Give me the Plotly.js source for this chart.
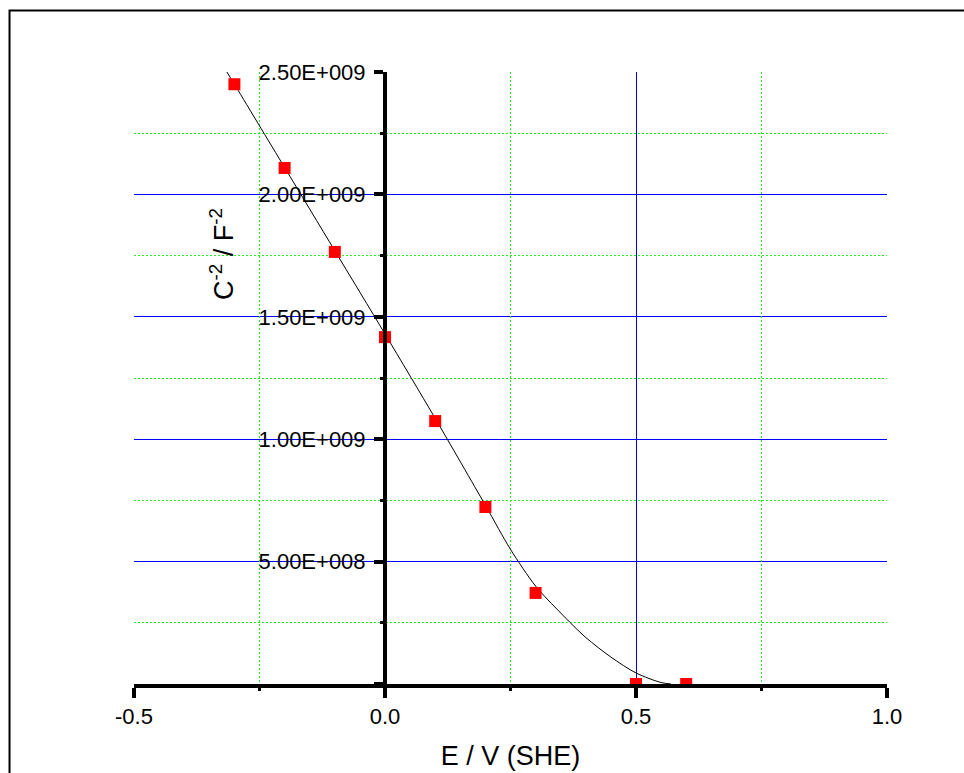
<!DOCTYPE html>
<html>
<head>
<meta charset="utf-8">
<script src="https://cdn.plot.ly/plotly-3.0.1.min.js"></script>
<style>
  html, body { margin: 0; padding: 0; background: #ffffff; }
  #chart { width: 964px; height: 773px; }
</style>
</head>
<body>
<div id="chart"></div>
<script>
// Measured points
const E = [-0.3, -0.2, -0.1, 0.0, 0.1, 0.2, 0.3, 0.5, 0.6];
const C2 = [2.45e9, 2.108e9, 1.765e9, 1.417e9, 1.074e9, 0.723e9, 0.372e9, 0.0, 0.0];

// Fitted curve
const fitE = [-0.315, -0.3, -0.2, -0.1, 0.0, 0.1, 0.2, 0.25, 0.3, 0.35, 0.4, 0.45, 0.5, 0.55, 0.57];
const fitC2 = [2.5e9, 2.45e9, 2.11e9, 1.77e9, 1.43e9, 1.085e9, 0.73e9, 0.55e9, 0.40e9, 0.29e9, 0.19e9, 0.11e9, 0.045e9, 0.006e9, 0.0];

// Tick labels
const xTickVals = [-0.5, 0.0, 0.5, 1.0];
const xTickText = ["-0.5", "0.0", "0.5", "1.0"];
const xMinorVals = [-0.25, 0.25, 0.75];
const yTickVals = [0, 5e8, 1e9, 1.5e9, 2e9, 2.5e9];
const yTickText = ["", "5.00E+008", "1.00E+009", "1.50E+009", "2.00E+009", "2.50E+009"];
const yMinorVals = [2.5e8, 7.5e8, 1.25e9, 1.75e9, 2.25e9];

const font = "Arial, 'Liberation Sans', sans-serif";
const xRange = [-0.5, 1.0];
const yRange = [0, 2.5e9];

const traces = [
  {
    x: fitE, y: fitC2, type: "scatter", mode: "lines",
    xaxis: "x", yaxis: "y",
    line: { color: "#000000", width: 1, shape: "spline", smoothing: 0.8 },
    hoverinfo: "skip", showlegend: false
  },
  {
    x: E, y: C2, type: "scatter", mode: "markers",
    xaxis: "x2", yaxis: "y2",
    marker: { symbol: "square", size: 12, color: "#ff0000", line: { width: 0 } },
    showlegend: false
  }
];

const minorGrid = { showgrid: true, gridcolor: "#22ee22", gridwidth: 1, griddash: "2px,2px" };

const layout = {
  width: 964, height: 773,
  margin: { l: 134, r: 77, t: 72, b: 89, pad: 0 },
  paper_bgcolor: "#ffffff", plot_bgcolor: "#ffffff",
  font: { family: font, size: 22, color: "#000000" },
  showlegend: false,
  xaxis: {
    range: xRange,
    tickmode: "array", tickvals: xTickVals, ticktext: xTickText,
    ticks: "outside", ticklen: 10, tickwidth: 4, tickcolor: "#000000",
    showline: true, linewidth: 4, linecolor: "#000000",
    showgrid: true, gridcolor: "#0000ff", gridwidth: 1,
    zeroline: false,
    tickfont: { family: font, size: 22, color: "#000000" },
    title: { text: "E / V (SHE)", font: { family: font, size: 27, color: "#000000" }, standoff: 19 },
    fixedrange: true
  },
  yaxis: {
    range: yRange,
    anchor: "free", position: 1 / 3,
    tickmode: "array", tickvals: yTickVals, ticktext: yTickText,
    ticks: "outside", ticklen: 9, tickwidth: 4, tickcolor: "#000000",
    ticklabelstandoff: 4,
    showline: true, linewidth: 4, linecolor: "#000000",
    showgrid: true, gridcolor: "#0000ff", gridwidth: 1,
    zeroline: false,
    tickfont: { family: font, size: 22, color: "#000000" },
    fixedrange: true
  },
  xaxis2: Object.assign({
    overlaying: "x", anchor: "y", side: "bottom",
    range: xRange,
    tickmode: "array", tickvals: xMinorVals,
    ticks: "outside", ticklen: 6, tickwidth: 3, tickcolor: "#000000",
    showticklabels: false, showline: false, zeroline: false,
    fixedrange: true
  }, minorGrid),
  yaxis2: Object.assign({
    overlaying: "y", anchor: "free", position: 1 / 3, side: "left",
    range: yRange,
    tickmode: "array", tickvals: yMinorVals,
    ticks: "outside", ticklen: 5, tickwidth: 3, tickcolor: "#000000",
    showticklabels: false, showline: false, zeroline: false,
    fixedrange: true
  }, minorGrid),
  annotations: [
    {
      text: "C<sup>-2</sup> / F<sup>-2</sup>",
      xref: "paper", yref: "paper", x: 0.117, y: 0.7026,
      xanchor: "center", yanchor: "middle", textangle: -90,
      showarrow: false, font: { family: font, size: 27, color: "#000000" }
    }
  ],
  shapes: [
    {
      type: "rect", xref: "paper", yref: "paper",
      x0: -0.1653, x1: 1.3, y0: -0.3, y1: 1.1005,
      line: { color: "#000000", width: 2 }, fillcolor: "rgba(0,0,0,0)", layer: "below"
    }
  ]
};

Plotly.newPlot("chart", traces, layout, { staticPlot: true, displayModeBar: false });
</script>
</body>
</html>
